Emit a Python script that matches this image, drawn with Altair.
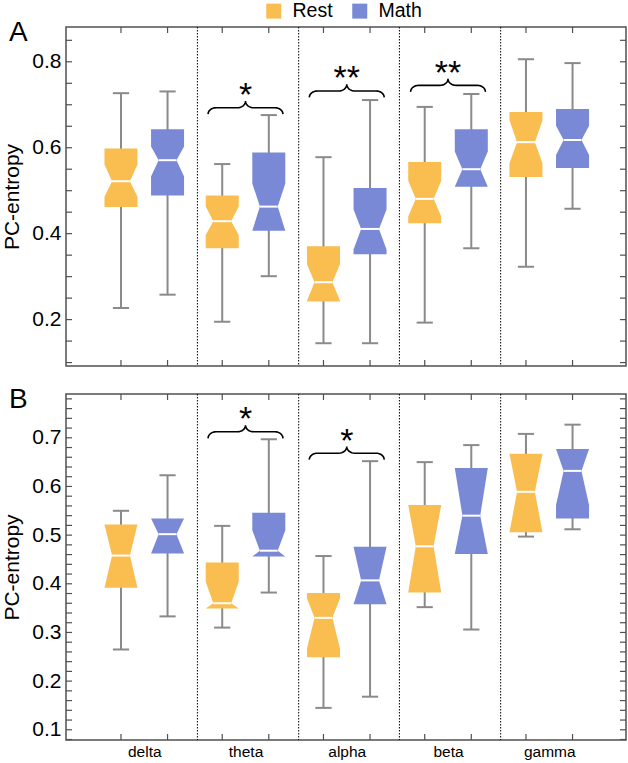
import json
import numpy as np
import pandas as pd
import altair as alt

FONT = "Liberation Sans"
BANDS = ["delta", "theta", "alpha", "beta", "gamma"]
CONDITIONS = ["Rest", "Math"]
COLORS = ["#FABD50", "#7A89D6"]
GREY = "#8A8A8A"
FRAME = "#505050"

# Box summaries per band:
# (whisker low, Q1, notch low, median, notch high, Q3, whisker high)
A_REST = [
    (0.227, 0.462, 0.486, 0.522, 0.561, 0.598, 0.727),
    (0.195, 0.366, 0.397, 0.429, 0.463, 0.489, 0.562),
    (0.145, 0.242, 0.244, 0.287, 0.329, 0.371, 0.578),
    (0.193, 0.424, 0.440, 0.481, 0.523, 0.567, 0.695),
    (0.323, 0.532, 0.564, 0.613, 0.664, 0.683, 0.806),
]
A_MATH = [
    (0.258, 0.489, 0.533, 0.571, 0.603, 0.643, 0.731),
    (0.301, 0.407, 0.407, 0.463, 0.517, 0.589, 0.676),
    (0.145, 0.352, 0.363, 0.411, 0.456, 0.506, 0.711),
    (0.366, 0.509, 0.509, 0.550, 0.591, 0.643, 0.725),
    (0.458, 0.553, 0.583, 0.618, 0.651, 0.690, 0.797),
]
B_REST = [
    (0.265, 0.392, 0.392, 0.458, 0.522, 0.522, 0.550),
    (0.310, 0.349, 0.349, 0.360, 0.404, 0.444, 0.519),
    (0.145, 0.249, 0.267, 0.330, 0.370, 0.381, 0.457),
    (0.352, 0.382, 0.382, 0.477, 0.562, 0.562, 0.650),
    (0.497, 0.506, 0.506, 0.589, 0.667, 0.667, 0.708),
]
B_MATH = [
    (0.333, 0.462, 0.462, 0.502, 0.534, 0.534, 0.623),
    (0.382, 0.456, 0.456, 0.468, 0.510, 0.546, 0.697),
    (0.168, 0.358, 0.358, 0.407, 0.476, 0.476, 0.652),
    (0.306, 0.461, 0.461, 0.540, 0.638, 0.638, 0.685),
    (0.512, 0.534, 0.562, 0.632, 0.677, 0.677, 0.727),
]

# Significance brackets: (band, stars, bracket base value)
A_SIG = [("theta", "*", 0.678), ("alpha", "**", 0.717), ("beta", "**", 0.730)]
B_SIG = [("theta", "*", 0.699), ("alpha", "*", 0.655)]

A_LABELED = [0.2, 0.4, 0.6, 0.8]
B_LABELED = [0.1, 0.2, 0.3, 0.4, 0.5, 0.6, 0.7]
A_MINOR = list(np.round(np.arange(0.10, 0.851, 0.05), 2))
B_MINOR = list(np.round(np.arange(0.08, 0.781, 0.02), 2))

A_DOMAIN = [0.092, 0.881]
B_DOMAIN = [0.079, 0.790]
X_DOMAIN = [0.227, 5.758]
SEPARATORS = [1.525, 2.525, 3.52, 4.52]

W = 560
HA = 339
HB = 346
OFFSET = 0.23        # distance of each box from its band centre
BOX_HALF = 0.163
NOTCH_HALF = 0.088
CAP_HALF = 0.08
BRACE_HALF = 0.37
BRACE_CURL = 0.08
BRACE_PX = 13
TICK_LEN = 6

xscale = alt.Scale(domain=X_DOMAIN, nice=False, zero=False)
color_scale = alt.Scale(domain=CONDITIONS, range=COLORS)


def box_tables(rest, math):
    stats, poly = [], []
    for ci, (cond, rows) in enumerate(zip(CONDITIONS, [rest, math])):
        for bi, (lo, q1, nlo, med, nhi, q3, hi) in enumerate(rows):
            c = bi + 1 + (-OFFSET if ci == 0 else OFFSET)
            bid = f"{cond}-{BANDS[bi]}"
            stats.append(dict(box=bid, cond=cond, center=c, lo=lo, hi=hi, med=med,
                              cap_l=c - CAP_HALF, cap_r=c + CAP_HALF,
                              n_l=c - NOTCH_HALF, n_r=c + NOTCH_HALF))
            # outline of the notched box: up the left side, down the right side
            profile = [(q1, BOX_HALF), (nlo, BOX_HALF), (med, NOTCH_HALF),
                       (nhi, BOX_HALF), (q3, BOX_HALF)]
            outline = [(c - hw, yv) for yv, hw in profile] + \
                      [(c + hw, yv) for yv, hw in profile[::-1]]
            for k, (xv, yv) in enumerate(outline):
                poly.append(dict(box=bid, cond=cond, k=k, x=xv, y=yv))
    return pd.DataFrame(stats), pd.DataFrame(poly)


def brace_table(sig, px_per_unit):
    h = BRACE_PX / px_per_unit
    t = np.linspace(0, np.pi / 2, 9)
    rows, stars = [], []
    for band, label, base in sig:
        c = BANDS.index(band) + 1
        xs = np.concatenate([c - BRACE_HALF + BRACE_CURL * (1 - np.cos(t)),
                             c - BRACE_CURL + BRACE_CURL * np.sin(t)])
        ys = np.concatenate([base + h / 2 * np.sin(t),
                             base + h / 2 + h / 2 * (1 - np.cos(t))])
        xs = np.concatenate([xs, 2 * c - xs[::-1]])
        ys = np.concatenate([ys, ys[::-1]])
        for k, (xv, yv) in enumerate(zip(xs, ys)):
            rows.append(dict(id=band, k=k, x=xv, y=yv))
        stars.append(dict(x=c, y=base + h, stars=label))
    return pd.DataFrame(rows), pd.DataFrame(stars)


def panel(rest, math, sig, domain, height, labeled, minor, letter, show_x, legend):
    stats, poly = box_tables(rest, math)
    pxu = height / (domain[1] - domain[0])
    braces, stars = brace_table(sig, pxu)
    yscale = alt.Scale(domain=domain, nice=False, zero=False)
    yaxis = alt.Axis(values=labeled, format=".1f", ticks=False, tickSize=0, domain=False,
                     grid=False, labelFontSize=21, labelFont=FONT, labelColor="black",
                     labelPadding=5, title="PC-entropy", titleFontSize=21, titleFont=FONT,
                     titleFontWeight="normal", titleColor="black", titlePadding=9)
    if show_x:
        xaxis = alt.Axis(values=[1, 2, 3, 4, 5], ticks=False, tickSize=0, domain=False,
                         grid=False, labelAngle=0, labelFontSize=15.5, labelFont=FONT,
                         labelColor="black", labelPadding=4, title=None,
                         labelExpr=f"{json.dumps(BANDS)}[datum.value - 1]")
    else:
        xaxis = None

    def X(field):
        return alt.X(field, type="quantitative", scale=xscale, axis=xaxis)

    def Y(field):
        return alt.Y(field, type="quantitative", scale=yscale, axis=yaxis)

    seps = alt.Chart(pd.DataFrame({"x": SEPARATORS})).mark_rule(
        color="black", strokeWidth=1, strokeDash=[1.5, 1.5]).encode(x=X("x"))

    whisk = alt.Chart(stats).mark_rule(color=GREY, strokeWidth=2).encode(
        x=X("center"), y=Y("lo"), y2="hi")
    cap_lo = alt.Chart(stats).mark_rule(color=GREY, strokeWidth=2).encode(
        x=X("cap_l"), x2="cap_r", y=Y("lo"))
    cap_hi = alt.Chart(stats).mark_rule(color=GREY, strokeWidth=2).encode(
        x=X("cap_l"), x2="cap_r", y=Y("hi"))

    boxes = alt.Chart(poly).mark_line(filled=True, interpolate="linear-closed",
                                      strokeWidth=0, fillOpacity=1).encode(
        x=X("x"), y=Y("y"),
        color=alt.Color("cond:N", scale=color_scale, legend=legend),
        detail="box:N", order="k:Q")

    medians = alt.Chart(stats).mark_rule(color="white", strokeWidth=2).encode(
        x=X("n_l"), x2="n_r", y=Y("med"))

    minor_df = pd.DataFrame({"v": minor})
    ticks_l = alt.Chart(minor_df).mark_rule(color=FRAME, strokeWidth=1.2).encode(
        y=Y("v"), x=alt.value(0), x2=alt.value(TICK_LEN))
    ticks_r = alt.Chart(minor_df).mark_rule(color=FRAME, strokeWidth=1.2).encode(
        y=Y("v"), x=alt.value(W - TICK_LEN), x2=alt.value(W))
    ticks_t = alt.Chart(stats).mark_rule(color=FRAME, strokeWidth=1.2).encode(
        x=X("center"), y=alt.value(0), y2=alt.value(TICK_LEN))
    ticks_b = alt.Chart(stats).mark_rule(color=FRAME, strokeWidth=1.2).encode(
        x=X("center"), y=alt.value(height - TICK_LEN), y2=alt.value(height))

    brace = alt.Chart(braces).mark_line(color="black", strokeWidth=1.6).encode(
        x=X("x"), y=Y("y"), detail="id:N", order="k:Q")
    star = alt.Chart(stars).mark_text(font=FONT, fontSize=34, dy=5,
                                      baseline="alphabetic", color="black").encode(
        x=X("x"), y=Y("y"), text="stars:N")

    tag = alt.Chart(pd.DataFrame({"t": [letter]})).mark_text(
        font=FONT, fontSize=28, align="left", baseline="alphabetic",
        color="black").encode(x=alt.value(-57), y=alt.value(14), text="t:N")

    return alt.layer(seps, whisk, cap_lo, cap_hi, boxes, medians,
                     ticks_l, ticks_r, ticks_t, ticks_b, brace, star, tag
                     ).properties(width=W, height=height)


legend = alt.Legend(title=None, orient="none", legendX=198, legendY=-26,
                    direction="horizontal", symbolType="square", symbolSize=225,
                    symbolStrokeWidth=0, symbolOpacity=1, labelFont=FONT,
                    labelFontSize=19.5, labelColor="black", labelOffset=9,
                    columnPadding=17)

top = panel(A_REST, A_MATH, A_SIG, A_DOMAIN, HA, A_LABELED, A_MINOR, "A", False, legend)
bottom = panel(B_REST, B_MATH, B_SIG, B_DOMAIN, HB, B_LABELED, B_MINOR, "B", True, None)

chart = alt.vconcat(top, bottom, spacing=17).resolve_scale(
    color="independent", y="independent"
).properties(
    padding={"left": 1, "top": 0, "right": 0, "bottom": 0},
    background="white",
).configure_view(stroke=FRAME, strokeWidth=1.5)

chart.save("out.html", embed_options={"renderer": "svg", "actions": False})
